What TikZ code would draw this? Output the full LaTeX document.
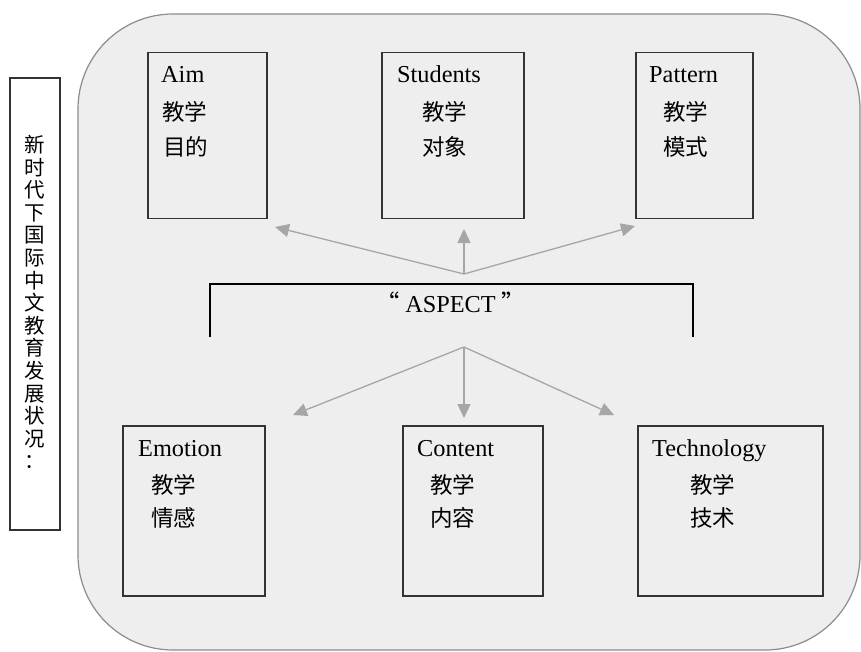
\documentclass[tikz,border=0pt]{standalone}
\usepackage{fontspec}
\setmainfont{Liberation Serif}
\newfontfamily\cjk{Noto Sans CJK SC}
\usetikzlibrary{arrows.meta}
\definecolor{panelfill}{HTML}{EEEEEE}
\definecolor{panelline}{HTML}{8C8C8C}
\definecolor{boxline}{HTML}{333333}
\definecolor{arrowgray}{HTML}{A6A6A6}
\tikzset{
  panel/.style={draw=panelline, fill=panelfill, line width=1.2pt, rounded corners=95pt},
  box/.style={draw=boxline, line width=1.6pt, inner sep=0pt},
  lat/.style={anchor=base west, inner sep=0pt, font=\fontsize{24.3}{27}\selectfont},
  zh/.style={anchor=west, inner sep=0pt, font=\cjk\fontsize{22.5}{25}\selectfont},
  arr/.style={draw=arrowgray, line width=1.3pt, -{Triangle[length=14pt,width=13pt]}},
  brk/.style={draw=black, line width=1.4pt}
}
\begin{document}
\begin{tikzpicture}[x=1pt,y=-1pt]
\useasboundingbox (0,0) rectangle (861,652);
% big panel
\draw[panel] (78,14) rectangle (860,650);
% left title box
\node[box, minimum width=50pt, minimum height=452pt] (title) at (35,304) {};
\node[align=center, inner sep=0pt, font=\cjk\fontsize{20.5}{22.6}\selectfont] (titletext) at (35,302)
  {新\\时\\代\\下\\国\\际\\中\\文\\教\\育\\发\\展\\状\\况\\：};
% top boxes
\node[box, minimum width=119pt, minimum height=166pt] (aim) at (207.5,135.5) {};
\node[box, minimum width=142pt, minimum height=166pt] (students) at (453,135.5) {};
\node[box, minimum width=117pt, minimum height=166pt] (pattern) at (694.5,135.5) {};
% bottom boxes
\node[box, minimum width=142pt, minimum height=170pt] (emotion) at (194,511) {};
\node[box, minimum width=140pt, minimum height=170pt] (content) at (473,511) {};
\node[box, minimum width=185pt, minimum height=170pt] (technology) at (730.5,511) {};
% top texts
\node[lat] (aimL) at (161,83) {Aim};
\node[zh] (aimZ1) at (162,112) {教学};
\node[zh] (aimZ2) at (163,147) {目的};
\node[lat] (stuL) at (397,83) {Students};
\node[zh] (stuZ1) at (422,112) {教学};
\node[zh] (stuZ2) at (422,147) {对象};
\node[lat] (patL) at (649,83) {Pattern};
\node[zh] (patZ1) at (663,112) {教学};
\node[zh] (patZ2) at (663,147) {模式};
% bottom texts
\node[lat] (emoL) at (138,456) {Emotion};
\node[zh] (emoZ1) at (151,485) {教学};
\node[zh] (emoZ2) at (151,518) {情感};
\node[lat] (conL) at (417,456) {Content};
\node[zh] (conZ1) at (430,485) {教学};
\node[zh] (conZ2) at (430,518) {内容};
\node[lat] (tecL) at (652,456) {Technology};
\node[zh] (tecZ1) at (690,485) {教学};
\node[zh] (tecZ2) at (690,518) {技术};
% ASPECT bracket
\coordinate (bl) at (210,337);
\coordinate (br) at (693,337);
\draw[brk] (bl) |- (452,284) -| (br);
\node[anchor=base, inner sep=0pt, font=\fontsize{24.3}{27}\selectfont] (aspect) at (451,312) {{\cjk “}\hspace{5pt}ASPECT\hspace{6pt}{\cjk ”}};
% arrow origins and tips
\coordinate (up) at (464,274);
\coordinate (dn) at (464,347);
\coordinate (tAim) at (275,227);
\coordinate (tStu) at (464,229);
\coordinate (tPat) at (635,226);
\coordinate (tEmo) at (293,415);
\coordinate (tCon) at (464,418);
\coordinate (tTec) at (614,415);
\draw[arr] (up) -- (tAim);
\draw[arr] (up) -- (tStu);
\draw[arr] (up) -- (tPat);
\draw[arr] (dn) -- (tEmo);
\draw[arr] (dn) -- (tCon);
\draw[arr] (dn) -- (tTec);
\end{tikzpicture}
\end{document}
